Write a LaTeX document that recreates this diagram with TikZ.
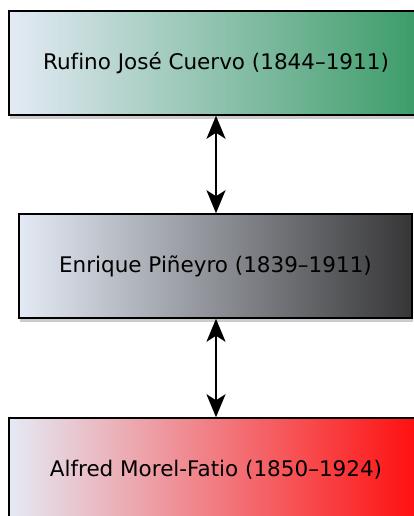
\documentclass[tikz,border=0pt]{standalone}
\usepackage{fontspec}
\setmainfont[Ligatures=NoCommon]{DejaVu Sans}
\usetikzlibrary{arrows.meta,shadows}
\definecolor{leftc}{RGB}{228,234,245}
\definecolor{greenc}{RGB}{58,155,103}
\definecolor{grayc}{RGB}{54,54,55}
\definecolor{redc}{RGB}{255,12,12}
\tikzset{
  person/.style={draw=black, line width=1.5pt, rectangle, minimum height=104pt,
    inner sep=0pt, font=\fontsize{21.5}{24}\selectfont, left color=leftc,
    drop shadow={shadow xshift=1pt, shadow yshift=-4pt, opacity=0.2, fill=black}},
  link/.style={line width=2pt, {Stealth[length=23pt,width=19pt,inset=6pt]}-{Stealth[length=23pt,width=19pt,inset=6pt]}}
}
\begin{document}
\begin{tikzpicture}[x=1pt,y=-1pt]
\useasboundingbox (0,0) rectangle (414,516);
\node[person, minimum width=414pt, right color=greenc] (cuervo) at (216,63) {Rufino José Cuervo (1844–1911)};
\node[person, minimum width=393pt, right color=grayc] (pineyro) at (215.5,266) {Enrique Piñeyro (1839–1911)};
\node[person, minimum width=414pt, right color=redc] (morel) at (216,470) {Alfred Morel-Fatio (1850–1924)};
\draw[link] (cuervo.south -| 216,0) -- (pineyro.north -| 216,0);
\draw[link] (pineyro.south -| 216,0) -- (morel.north -| 216,0);
\end{tikzpicture}
\end{document}
